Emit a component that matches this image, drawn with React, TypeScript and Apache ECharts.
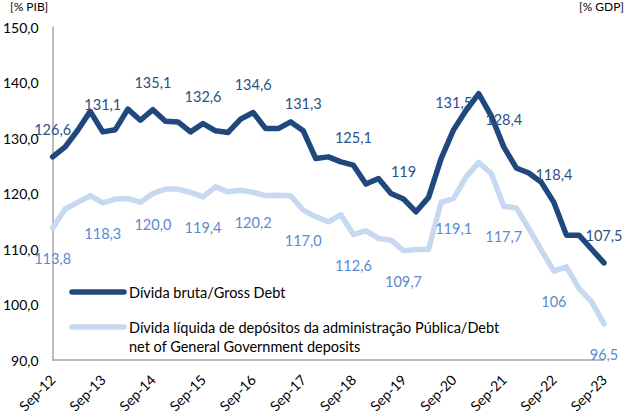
import React, { useEffect, useRef } from "react";
import * as echarts from "echarts";

const years = ["12", "13", "14", "15", "16", "17", "18", "19", "20", "21", "22", "23"];
const months = ["Sep", "Dec", "Mar", "Jun"];
const categories: string[] = [];
for (let y = 0; y < years.length; y++) {
  for (let q = 0; q < 4; q++) {
    if (y === years.length - 1 && q > 0) break;
    const yr = q <= 1 ? years[y] : years[y + 1];
    categories.push(`${months[q]}-${yr}`);
  }
}

const grossDebt = [
  126.6, 128.4, 131.4, 134.8, 131.1, 131.5, 135.2, 133.2, 135.1, 133.0, 132.9, 131.1,
  132.6, 131.3, 131.0, 133.4, 134.6, 131.7, 131.7, 132.9, 131.3, 126.3, 126.6, 125.7,
  125.1, 121.7, 122.7, 120.0, 119.0, 116.7, 119.3, 126.3, 131.5, 135.0, 138.0, 134.0,
  128.4, 124.6, 123.7, 122.0, 118.4, 112.5, 112.5, 110.0, 107.5,
];

const netDebt = [
  113.8, 117.2, 118.4, 119.6, 118.3, 119.0, 119.1, 118.4, 120.0, 120.8, 120.8, 120.2,
  119.4, 121.2, 120.3, 120.6, 120.2, 119.6, 119.7, 119.6, 117.0, 115.8, 114.9, 116.2,
  112.6, 113.3, 111.9, 111.6, 109.7, 109.9, 109.9, 118.4, 119.1, 123.0, 125.6, 123.6,
  117.7, 117.4, 113.7, 109.8, 106.0, 106.8, 102.9, 100.5, 96.5,
];

const grossLabels = ["126,6", "131,1", "135,1", "132,6", "134,6", "131,3", "125,1", "119", "131,5", "128,4", "118,4", "107,5"];
const netLabels = ["113,8", "118,3", "120,0", "119,4", "120,2", "117,0", "112,6", "109,7", "119,1", "117,7", "106", "96,5"];

const seriesNames = [
  "Dívida bruta/Gross Debt",
  "Dívida líquida de depósitos da administração Pública/Debt",
  "net of General Government deposits",
];

const FONT = "Lato, 'Open Sans', sans-serif";
const DARK = "#1F497D";
const LIGHT = "#C6D9F1";
const DARK_TXT = "#2A5185";
const LIGHT_TXT = "#5A8AD0";

const labelFor = (labels: string[]) => (p: any) =>
  p.dataIndex % 4 === 0 ? labels[p.dataIndex / 4] : "";

export default function App() {
  const ref = useRef<HTMLDivElement>(null);
  useEffect(() => {
    document.body.style.margin = "0";
    if (!ref.current) return;
    const chart = echarts.init(ref.current, undefined, { renderer: "svg" });
    chart.setOption({
      animation: false,
      backgroundColor: "#ffffff",
      grid: { left: 46, right: 24, top: 27, bottom: 60 },
      xAxis: {
        type: "category",
        data: categories,
        boundaryGap: false,
        axisLine: { show: true, lineStyle: { color: "#A6A6A6", width: 1.5 } },
        axisTick: { show: false },
        axisLabel: {
          interval: 3,
          rotate: 45,
          margin: 17,
          color: "#000",
          fontFamily: FONT,
          fontSize: 14,
        },
        splitLine: { show: false },
      },
      yAxis: {
        type: "value",
        min: 90,
        max: 150,
        interval: 10,
        axisLine: { show: true, lineStyle: { color: "#A6A6A6", width: 1.5 } },
        axisTick: { show: false },
        splitLine: { show: false },
        axisLabel: {
          margin: 14,
          color: "#000",
          fontFamily: FONT,
          fontSize: 14,
          formatter: (v: number) => v.toFixed(1).replace(".", ","),
        },
      },
      series: [
        {
          name: seriesNames[1],
          type: "line",
          data: netDebt,
          showSymbol: true,
          symbol: "circle",
          symbolSize: 2,
          itemStyle: { color: "rgba(0,0,0,0)" },
          lineStyle: { color: LIGHT, width: 5.5, cap: "round", join: "round" },
          label: {
            show: true,
            formatter: labelFor(netLabels),
            position: "bottom",
            distance: 22,
            color: LIGHT_TXT,
            fontFamily: FONT,
            fontSize: 14.5,
          },
          z: 2,
        },
        {
          name: seriesNames[0],
          type: "line",
          data: grossDebt,
          showSymbol: true,
          symbol: "circle",
          symbolSize: 2,
          itemStyle: { color: "rgba(0,0,0,0)" },
          lineStyle: { color: DARK, width: 5.5, cap: "round", join: "round" },
          label: {
            show: true,
            formatter: labelFor(grossLabels),
            position: "top",
            distance: 19,
            color: DARK_TXT,
            fontFamily: FONT,
            fontSize: 14.5,
          },
          z: 3,
        },
      ],
      graphic: [
        {
          type: "text",
          left: 10,
          top: 0,
          style: { text: "[% PIB]", fill: "#000", font: `12px ${FONT}` },
        },
        {
          type: "text",
          right: 4,
          top: 0,
          style: { text: "[% GDP]", fill: "#000", font: `12px ${FONT}` },
        },
        {
          type: "line",
          shape: { x1: 72, y1: 292, x2: 124, y2: 292 },
          style: { stroke: DARK, lineWidth: 5.5, lineCap: "round" },
        },
        {
          type: "text",
          x: 129,
          y: 292,
          style: { text: seriesNames[0], fill: "#000", font: `14.5px ${FONT}`, verticalAlign: "middle" },
        },
        {
          type: "line",
          shape: { x1: 72, y1: 327, x2: 124, y2: 327 },
          style: { stroke: LIGHT, lineWidth: 5.5, lineCap: "round" },
        },
        {
          type: "text",
          x: 129,
          y: 327,
          style: { text: seriesNames[1], fill: "#000", font: `14.5px ${FONT}`, verticalAlign: "middle" },
        },
        {
          type: "text",
          x: 129,
          y: 346,
          style: { text: seriesNames[2], fill: "#000", font: `14.5px ${FONT}`, verticalAlign: "middle" },
        },
      ],
    });
    return () => chart.dispose();
  }, []);
  return <div ref={ref} style={{ width: 628, height: 420 }} />;
}
